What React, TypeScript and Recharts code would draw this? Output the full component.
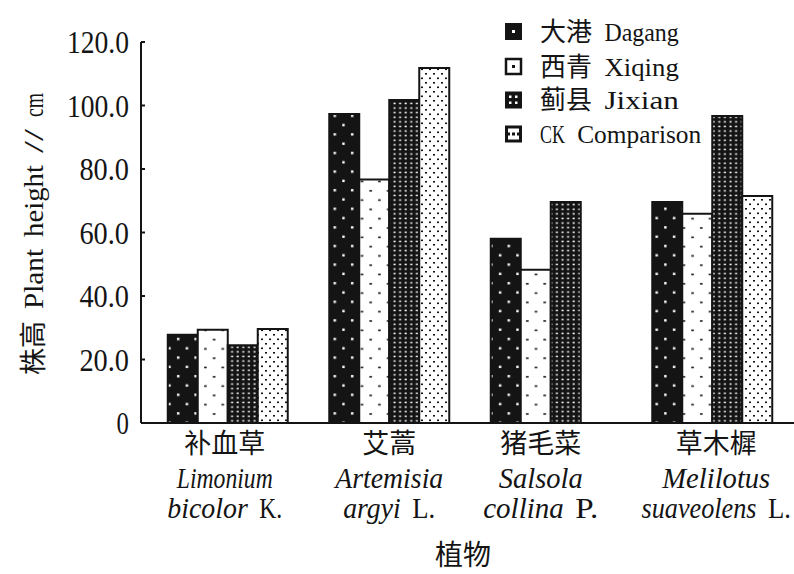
import React from "react";
import { BarChart, Bar, XAxis, YAxis } from "recharts";

// plant names (Chinese + Latin binomial + authority)
const plantsCn = ["补血草", "艾蒿", "猪毛菜", "草木樨"];
const genus = ["Limonium", "Artemisia", "Salsola", "Melilotus"];
const epithet = ["bicolor", "argyi", "collina", "suaveolens"];
const authority = ["K.", "L.", "P.", "L."];

// plant height, cm
const dagang = [27.8, 97.3, 58.0, 69.6];
const xiqing = [29.4, 76.7, 48.3, 65.9];
const jixian = [24.5, 101.7, 69.6, 96.7];
const ck: (number | null)[] = [29.6, 111.8, null, 71.5];

const yTicks = [0, 20, 40, 60, 80, 100, 120];
const seriesNames = ["大港 Dagang", "西青 Xiqing", "蓟县 Jixian", "CK Comparison"];
const seriesKeys = ["dagang", "xiqing", "jixian", "ck"];

const data = plantsCn.map((name, i) => ({
  name,
  dagang: dagang[i],
  xiqing: xiqing[i],
  jixian: jixian[i],
  ck: ck[i],
}));

const INK = "#141414";
const LAT = "'Liberation Serif', 'Times New Roman', serif";
const CJK = "'Noto Sans CJK SC', 'Noto Sans CJK JP', sans-serif";

type Part = { t: string; it?: boolean };
type Run = { t: string; kind: "cjk" | "lat" | "sp"; it: boolean };

function toRuns(parts: Part[]): Run[] {
  const runs: Run[] = [];
  for (const p of parts) {
    for (const ch of p.t) {
      const kind = ch === " " ? "sp" : ch.charCodeAt(0) > 0x2e80 ? "cjk" : "lat";
      const last = runs[runs.length - 1];
      if (last && last.kind === kind && last.it === !!p.it) last.t += ch;
      else runs.push({ t: ch, kind, it: !!p.it });
    }
  }
  return runs;
}

// SimSun-like layout: latin glyphs on a fixed half-width cell
function Line({
  x,
  y,
  parts,
  anchor = "middle",
  lat = 27,
  cell = 12,
  cjk = 27,
}: {
  x: number;
  y: number;
  parts: Part[];
  anchor?: "start" | "middle" | "end";
  lat?: number;
  cell?: number;
  cjk?: number;
}) {
  const runs = toRuns(parts);
  const width = (r: Run) => (r.kind === "cjk" ? r.t.length * cjk : r.t.length * cell);
  const total = runs.reduce((s, r) => s + width(r), 0);
  let cx = anchor === "middle" ? x - total / 2 : anchor === "end" ? x - total : x;
  return (
    <g>
      {runs.map((r, i) => {
        const w = width(r);
        const px = cx;
        cx += w;
        if (r.kind === "sp") return null;
        return (
          <text
            key={i}
            x={px}
            y={y}
            fill={INK}
            fontFamily={r.kind === "cjk" ? CJK : LAT}
            fontSize={r.kind === "cjk" ? cjk : lat}
            fontStyle={r.it ? "italic" : "normal"}
            textLength={r.kind === "lat" ? w : undefined}
            lengthAdjust="spacingAndGlyphs"
          >
            {r.t}
          </text>
        );
      })}
    </g>
  );
}

const labelShift = [-3, 0, -10, 4];

function PlantTick(props: any) {
  const { x, y, payload } = props;
  const i = payload.index;
  const cx = x + labelShift[i];
  return (
    <g>
      <Line x={cx} y={y + 30} parts={[{ t: plantsCn[i] }]} />
      <Line x={cx} y={y + 65} lat={29} parts={[{ t: genus[i], it: true }]} />
      <Line
        x={cx}
        y={y + 95}
        lat={29}
        cell={11.5}
        parts={[{ t: epithet[i], it: true }, { t: " " + authority[i] }]}
      />
    </g>
  );
}

function HeightTick(props: any) {
  const { x, y, payload } = props;
  const v = payload.value as number;
  return (
    <g>
      <line x1={x} x2={x + 4} y1={y} y2={y} stroke={INK} strokeWidth={2} />
      <Line x={x - 12} y={y + 11} anchor="end" lat={32} cell={12.4} parts={[{ t: v === 0 ? "0" : v.toFixed(1) }]} />
    </g>
  );
}

function Swatch({ k, cy }: { k: string; cy: number }) {
  const x = 15;
  const s = 17;
  const y = cy - s / 2;
  if (k === "dagang")
    return (
      <g>
        <rect x={x} y={y} width={s} height={s} fill={INK} />
        <rect x={x + 7} y={y + 7} width={3} height={3} fill="#fff" />
      </g>
    );
  if (k === "xiqing")
    return (
      <g>
        <rect x={x + 1} y={y + 1} width={s - 2} height={s - 2} fill="#fff" stroke={INK} strokeWidth={2.5} />
        <rect x={x + 7} y={y + 7} width={3} height={3} fill={INK} />
      </g>
    );
  if (k === "jixian")
    return (
      <g>
        <rect x={x} y={y} width={s} height={s} fill={INK} />
        {[4, 10].map((dx) =>
          [4, 10].map((dy) => <rect key={`${dx}-${dy}`} x={x + dx} y={y + dy} width={2.5} height={2.5} fill="#fff" />)
        )}
      </g>
    );
  return (
    <g>
      <rect x={x} y={y} width={s} height={s} fill={INK} />
      <rect x={x + 3} y={y + 3} width={s - 6} height={s - 6} fill="#fff" />
      <rect x={x + 7} y={y + 7} width={3} height={3} fill={INK} />
      <rect x={x + 3} y={y + 7} width={2} height={3} fill={INK} />
      <rect x={x + 12} y={y + 7} width={2} height={3} fill={INK} />
    </g>
  );
}

function LegendBox() {
  const rows = [31.5, 66.5, 100, 134];
  return (
    <svg width={260} height={160} style={{ position: "absolute", left: 490, top: 0 }}>
      {seriesNames.map((n, i) => (
        <g key={n}>
          <Swatch k={seriesKeys[i]} cy={rows[i]} />
          <Line x={50} y={rows[i] + 9} anchor="start" lat={26} cell={12.4} cjk={26} parts={[{ t: n }]} />
        </g>
      ))}
    </svg>
  );
}

export default function App() {
  return (
    <div style={{ position: "absolute", left: 0, top: 0, width: 794, height: 574, background: "#fff" }}>
      <BarChart
        width={794}
        height={574}
        data={data}
        margin={{ top: 42, right: 0, bottom: 0, left: 0 }}
        barCategoryGap={20.75}
        barGap={0}
      >
        <defs>
          <pattern id="pDagang" patternUnits="userSpaceOnUse" width={17.4} height={18.6}>
            <rect width={17.4} height={18.6} fill={INK} />
            <rect x={3} y={3} width={2.4} height={2.4} fill="#fff" />
            <rect x={11.7} y={12.3} width={2.4} height={2.4} fill="#fff" />
          </pattern>
          <pattern id="pXiqing" patternUnits="userSpaceOnUse" width={17.4} height={18.6}>
            <rect width={17.4} height={18.6} fill="#fff" />
            <rect x={4} y={4} width={2.6} height={1.6} fill={INK} />
            <rect x={12.7} y={13.3} width={2.6} height={1.6} fill={INK} />
          </pattern>
          <pattern id="pJixian" patternUnits="userSpaceOnUse" width={5.6} height={4.6}>
            <rect width={5.6} height={4.6} fill={INK} />
            <rect x={1.5} y={1.5} width={2} height={1.5} fill="#fff" />
          </pattern>
          <pattern id="pCk" patternUnits="userSpaceOnUse" width={8} height={9}>
            <rect width={8} height={9} fill="#fff" />
            <rect x={1} y={1} width={2} height={1.6} fill={INK} />
            <rect x={5} y={5.5} width={2} height={1.6} fill={INK} />
          </pattern>
        </defs>
        <XAxis
          dataKey="name"
          height={151}
          padding={{ left: 6, right: 1 }}
          axisLine={{ stroke: INK, strokeWidth: 2 }}
          tickLine={false}
          tickSize={0}
          tickMargin={0}
          interval={0}
          tick={<PlantTick />}
          label={{
            content: () => <Line x={463} y={565} cjk={28} parts={[{ t: "植物" }]} />,
          }}
        />
        <YAxis
          width={141}
          domain={[0, 120]}
          ticks={yTicks}
          axisLine={{ stroke: INK, strokeWidth: 2 }}
          tickLine={false}
          tickSize={0}
          tickMargin={0}
          tick={<HeightTick />}
          label={{
            content: () => (
              <g transform="translate(43, 234) rotate(-90)">
                <Line x={0} y={0} parts={[{ t: "株高 Plant height // cm" }]} />
              </g>
            ),
          }}
        />
        <Bar dataKey="dagang" name={seriesNames[0]} fill="url(#pDagang)" stroke={INK} strokeWidth={2} isAnimationActive={false} />
        <Bar dataKey="xiqing" name={seriesNames[1]} fill="url(#pXiqing)" stroke={INK} strokeWidth={2} isAnimationActive={false} />
        <Bar dataKey="jixian" name={seriesNames[2]} fill="url(#pJixian)" stroke={INK} strokeWidth={2} isAnimationActive={false} />
        <Bar dataKey="ck" name={seriesNames[3]} fill="url(#pCk)" stroke={INK} strokeWidth={2} isAnimationActive={false} />
      </BarChart>
      <LegendBox />
    </div>
  );
}
